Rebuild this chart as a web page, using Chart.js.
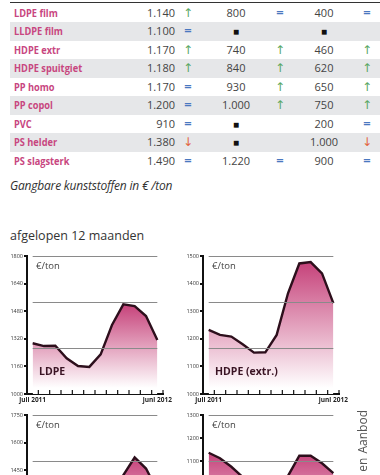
<!DOCTYPE html>
<html>
<head>
<meta charset="utf-8">
<script src="https://cdn.jsdelivr.net/npm/chart.js@4.4.1/dist/chart.umd.min.js"></script>
<style>
  body { margin: 0; width: 380px; height: 475px; overflow: hidden; background: #fff; font-family: "Open Sans", sans-serif; position: relative; }
  .abs { position: absolute; white-space: nowrap; }
  .rule { left: 10px; right: 0; top: 2px; height: 1px; background: #333; }
  .band { left: 10px; width: 370px; height: 18.5px; background: #e6e7e9; }
  .name { left: 14px; font-weight: 700; font-size: 10.5px; color: #c8467f; transform: scaleX(0.88); transform-origin: left center; }
  .val { font-size: 11px; color: #444; }
  .trend { font-size: 12px; font-family: "DejaVu Sans", sans-serif; text-align: center; width: 14px; }
  .box { position: absolute; }
  .vert { writing-mode: vertical-rl; transform: rotate(180deg); font-size: 12px; color: #555; word-spacing: 1px; }
</style>
</head>
<body>
<div class="abs rule"></div>
<div id="table"></div>
<div class="abs" style="left:10px; top:177px; font-size:12px; font-style:italic; color:#333; letter-spacing:-0.2px;">Gangbare kunststoffen in € /ton</div>
<div class="abs" style="left:10px; top:227px; font-size:12.5px; color:#333;">afgelopen 12 maanden</div>

<div class="box" style="left:0; top:248px;"><canvas id="c1" width="175" height="160"></canvas></div>
<div class="box" style="left:176px; top:248px;"><canvas id="c2" width="175" height="160"></canvas></div>
<div class="box" style="left:0; top:407px;"><canvas id="c3" width="175" height="160"></canvas></div>
<div class="box" style="left:176px; top:407px;"><canvas id="c4" width="175" height="160"></canvas></div>

<div class="abs vert" style="left:354px; top:410px;">Bron: Vraag en Aanbod</div>

<script>
// table data (prices in euro per ton)
const products = ["LDPE film", "LLDPE film", "HDPE extr", "HDPE spuitgiet", "PP homo", "PP copol", "PVC", "PS helder", "PS slagsterk"];
const prices1 = [1140, 1100, 1170, 1180, 1170, 1200, 910, 1380, 1490];
const trend1 = ["up", "eq", "up", "up", "eq", "eq", "eq", "down", "eq"];
const prices2 = [800, null, 740, 840, 930, 1000, null, null, 1220];
const trend2 = ["eq", null, "up", "up", "up", "up", null, null, "eq"];
const prices3 = [400, null, 460, 620, 650, 750, 200, 1000, 900];
const trend3 = ["eq", null, "up", "up", "up", "up", "eq", "down", "eq"];

// chart data, juli 2011 .. juni 2012
const months = ["jul", "aug", "sep", "okt", "nov", "dec", "jan", "feb", "mrt", "apr", "mei", "jun"];
const xEndLabels = ["juli 2011", "juni 2012"];
const ldpe = [1294, 1278, 1280, 1207, 1162, 1157, 1230, 1400, 1520, 1510, 1452, 1313];
const ldpeTicks = [1000, 1160, 1320, 1480, 1640, 1800];
const hdpe = [1232, 1214, 1208, 1180, 1150, 1151, 1214, 1365, 1473, 1478, 1437, 1329];
const hdpeTicks = [1000, 1100, 1200, 1300, 1400, 1500];
const pp = [1290, 1280, 1270, 1220, 1170, 1160, 1200, 1310, 1423, 1519, 1459, 1340];
const ppTicks = [1000, 1150, 1300, 1450, 1600, 1750];
const pvc = [1136, 1112, 1075, 1030, 1000, 985, 990, 1035, 1123, 1123, 1090, 1047];
const pvcTicks = [700, 800, 900, 1000, 1100, 1200, 1300];

// build table
const fmt = v => String(v).replace(/\B(?=(\d{3})+(?!\d))/g, ".");
const trendChar = { up: ["↑", "#5aa862"], eq: ["=", "#4a78c0"], down: ["↓", "#e2643e"] };
const table = document.getElementById("table");
function cell(html, cls, style) {
  const d = document.createElement("div");
  d.className = "abs " + cls;
  d.style.cssText = style;
  d.innerHTML = html;
  table.appendChild(d);
}
products.forEach((p, i) => {
  const top = 3.5 + 18.5 * i;
  const lh = "top:" + top + "px; line-height:18.5px; height:18.5px;";
  if (i % 2 === 1) cell("", "band", "top:" + top + "px;");
  cell(p, "name", lh);
  cell(fmt(prices1[i]), "val", lh + "right:205px;");
  const cols = [[null, trend1, 0, 188], [prices2, trend2, 236, 280], [prices3, trend3, 324, 367]];
  cols.forEach(([pr, tr, cx, ax]) => {
    if (pr) {
      const txt = pr[i] === null ? '<span style="font-size:10px;color:#111;">■</span>' : fmt(pr[i]);
      cell(txt, "val", lh + "left:" + (cx - 20) + "px; width:40px; text-align:center;");
    }
    if (tr[i]) {
      const [ch, col] = trendChar[tr[i]];
      const w = tr[i] === "eq" ? "font-weight:700;font-size:10px;" : "";
      cell(ch, "trend", lh + w + "left:" + (ax - 7) + "px; color:" + col + ";");
    }
  });
});

// charts
function makeChart(id, values, ticks, name) {
  const extras = {
    id: "extras",
    afterDatasetsDraw(chart) {
      const { ctx, chartArea, scales: { x, y } } = chart;
      const x0 = x.getPixelForValue(0);
      const x1 = x.getPixelForValue(months.length - 1);
      ctx.save();
      // reference lines at thirds of the range
      ctx.strokeStyle = "#8a8a8a";
      ctx.lineWidth = 1;
      for (let k = 0; k < 3; k++) {
        const py = Math.round(y.getPixelForValue(y.max - k * (y.max - y.min) / 3)) + 0.5;
        ctx.beginPath(); ctx.moveTo(x0, py); ctx.lineTo(x1, py); ctx.stroke();
      }
      // small month ticks pointing up
      const step = x.getPixelForValue(1) - x0;
      ctx.strokeStyle = "#111";
      ctx.lineWidth = 1.2;
      for (let i = 0; i < months.length; i++) {
        const px = x.getPixelForValue(i) + step / 2;
        ctx.beginPath(); ctx.moveTo(px, chartArea.bottom); ctx.lineTo(px, chartArea.bottom - 4); ctx.stroke();
      }
      ctx.fillStyle = "#444";
      ctx.font = "9.5px 'Open Sans'";
      ctx.textBaseline = "middle";
      ctx.fillText("€/ton", chartArea.left + 9, chartArea.top + 10);
      if (name) {
        ctx.fillStyle = "#3a1424";
        ctx.font = "bold 10.5px 'Open Sans'";
        ctx.fillText(name, chartArea.left + 12, chartArea.bottom - 22);
      }
      ctx.restore();
    }
  };
  return new Chart(document.getElementById(id), {
    type: "line",
    data: {
      labels: months,
      datasets: [{
        data: values,
        borderColor: "#2d0f1c",
        borderWidth: 2.4,
        pointRadius: 0,
        tension: 0,
        fill: "start",
        backgroundColor: c => {
          const chart = c.chart;
          if (!chart.chartArea) return "transparent";
          const top = chart.scales.y.getPixelForValue(Math.max(...values));
          const g = chart.ctx.createLinearGradient(0, top, 0, chart.chartArea.bottom - 6);
          g.addColorStop(0, "rgb(198,66,122)");
          g.addColorStop(1, "rgb(255,255,255)");
          return g;
        }
      }]
    },
    options: {
      responsive: false,
      animation: false,
      layout: { padding: { top: 8, right: 12, left: 0, bottom: 0 } },
      plugins: { legend: { display: false }, tooltip: { enabled: false } },
      scales: {
        x: {
          offset: true,
          grid: { display: false, drawTicks: false },
          border: { color: "#111", width: 2 },
          ticks: {
            autoSkip: false, maxRotation: 0, padding: 2,
            font: { size: 6.5, weight: "bold", family: "Open Sans" }, color: "#222",
            callback: (v, i) => i === 0 ? xEndLabels[0] : (i === months.length - 1 ? xEndLabels[1] : "")
          },
          afterFit: s => { s.height = 14; }
        },
        y: {
          min: ticks[0],
          max: ticks[ticks.length - 1],
          ticks: {
            stepSize: ticks[1] - ticks[0], padding: 1,
            font: { size: 5.5, family: "Open Sans" }, color: "#333",
            callback: v => String(v)
          },
          grid: { drawOnChartArea: false, tickLength: 3, color: "#111", lineWidth: 2 },
          border: { color: "#111", width: 2 },
          afterFit: s => { s.width = 27; }
        }
      }
    },
    plugins: [extras]
  });
}

makeChart("c1", ldpe, ldpeTicks, "LDPE");
makeChart("c2", hdpe, hdpeTicks, "HDPE (extr.)");
makeChart("c3", pp, ppTicks, null);
makeChart("c4", pvc, pvcTicks, null);
</script>
</body>
</html>
